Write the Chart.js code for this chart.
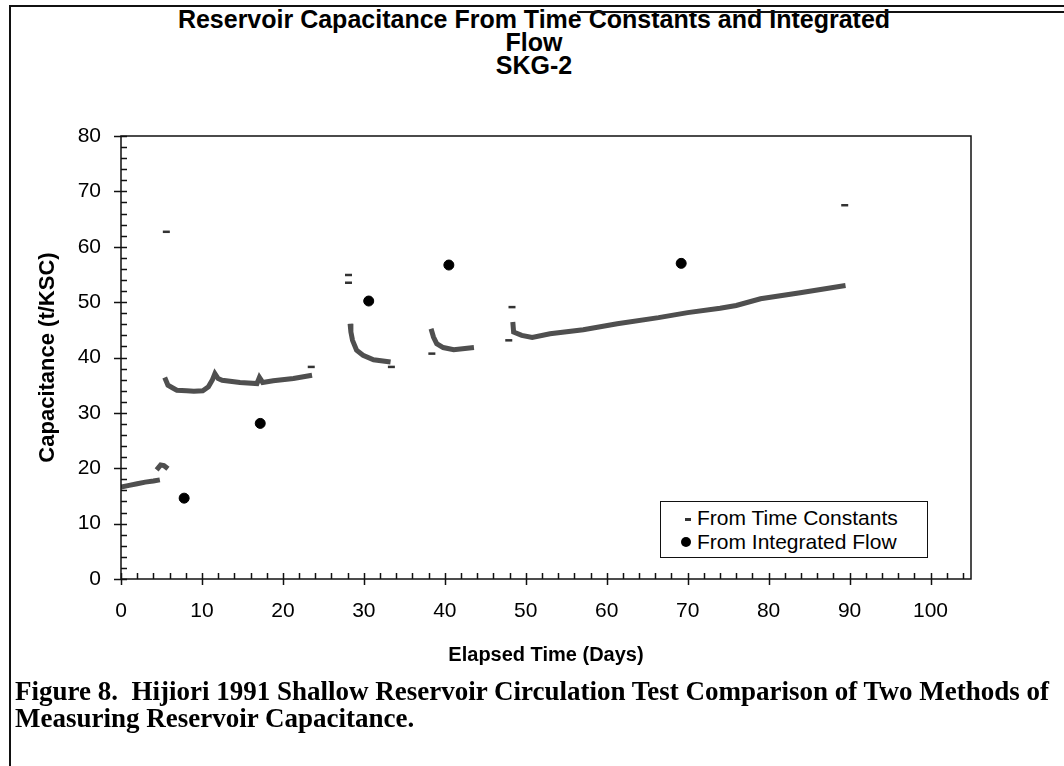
<!DOCTYPE html>
<html>
<head>
<meta charset="utf-8">
<script src="https://cdn.jsdelivr.net/npm/chart.js@4.4.1/dist/chart.umd.min.js"></script>
<style>
    html, body { margin: 0; padding: 0; background: #fff; }
    #page { position: relative; width: 1064px; height: 766px; overflow: hidden; font-family: "Liberation Sans", Arial, sans-serif; color: #000; }
    #frameTop { position: absolute; left: 9px; top: 5px; width: 1055px; border-top: 2px solid #111; }
    #frameLeft { position: absolute; left: 9px; top: 5px; height: 761px; border-left: 2px solid #111; }
    #scanLine { position: absolute; left: 577px; top: 11px; width: 487px; border-top: 2px solid #111; }
    #title { position: absolute; left: 0; top: 8px; width: 1068px; text-align: center; font-weight: bold; font-size: 25px; line-height: 23px; }
    #chartBox { position: absolute; left: 0; top: 0; width: 1064px; height: 680px; }
    #legend { position: absolute; left: 660px; top: 501px; width: 266px; height: 55px; border: 1.5px solid #111; background: #fff; font-size: 21px; }
    #legend .row { position: absolute; left: 36px; white-space: nowrap; line-height: 24px; }
    #legend .dash { position: absolute; left: 24px; width: 6px; height: 3px; background: #333; }
    #legend .dot { position: absolute; left: 20px; width: 10px; height: 10px; border-radius: 50%; background: #000; }
    #caption { position: absolute; left: 15px; top: 678px; font-family: "Liberation Serif", "Times New Roman", serif; font-weight: bold; font-size: 27px; line-height: 27px; white-space: nowrap; }
</style>
</head>
<body>
<div id="page">
    <div id="frameTop"></div>
    <div id="frameLeft"></div>
    <div id="title">Reservoir Capacitance From Time Constants and Integrated<br>Flow<br>SKG-2</div>
    <div id="scanLine"></div>
    <div id="chartBox"><canvas id="chart"></canvas></div>
    <div id="legend">
        <span class="dash" style="top:16px"></span>
        <div class="row" style="top:4px">From Time Constants</div>
        <span class="dot" style="top:35px"></span>
        <div class="row" style="top:28px">From Integrated Flow</div>
    </div>
    <div id="caption">Figure 8.&nbsp; Hijiori 1991 Shallow Reservoir Circulation Test Comparison of Two Methods of<br>Measuring Reservoir Capacitance.</div>
</div>

<script>
// ============================================
// DATA
// ============================================

// Time-constant estimates, null entries split the separate test runs
const tcDays = [
    0, 1, 2, 3, 4, 4.8, null,
    4.4, 4.9, 5.3, 5.8, null,
    5.4, 5.8, 6.4, 6.9, 8.1, 9.0, 10.1, 10.8, 11.3, 11.6, 12.0, 12.5, 14.7, 16.8, 17.1, 17.5, 18.8, 21.3, 23.6, null,
    28.3, 28.4, 28.6, 29.1, 29.9, 31.2, 33.3, null,
    38.3, 38.6, 39.0, 39.8, 41.1, 43.6, null,
    48.4, 48.5, 49.5, 50.8, 53.0, 57.1, 61.3, 66.4, 70.0, 74.0, 76.0, 79.0, 83.9, 89.5
];
const tcValues = [
    16.6, 16.9, 17.2, 17.5, 17.7, 17.9, null,
    19.7, 20.6, 20.5, 19.9, null,
    36.4, 35.0, 34.5, 34.1, 34.0, 33.9, 34.0, 34.7, 36.0, 37.1, 36.2, 35.9, 35.5, 35.3, 36.4, 35.5, 35.8, 36.2, 36.8, null,
    46.1, 44.6, 43.1, 41.3, 40.4, 39.6, 39.2, null,
    45.2, 43.7, 42.5, 41.8, 41.4, 41.8, null,
    46.4, 44.6, 44.0, 43.6, 44.3, 45.0, 46.1, 47.2, 48.1, 48.9, 49.4, 50.6, 51.7, 53.0
];

// Scattered single time-constant points
const tcSpotDays = [5.6, 23.5, 28.1, 28.1, 33.4, 38.4, 47.9, 48.3, 89.4];
const tcSpotValues = [62.7, 38.3, 54.9, 53.5, 38.3, 40.7, 43.1, 49.1, 67.5];

// Integrated-flow estimates
const flowDays = [7.8, 17.2, 30.6, 40.5, 69.2];
const flowValues = [14.6, 28.1, 50.2, 56.7, 57.0];

const X_MAX = 105;
const Y_MAX = 80;
const MAJOR_STEP = 10;
const MINOR_STEP = 2;

function toPoints(xs, ys) {
    const points = [];
    for (let i = 0; i < xs.length; i++) {
        points.push({ x: xs[i] === null ? NaN : xs[i], y: ys[i] });
    }
    return points;
}

// ============================================
// PLOT FRAME + TICK MARKS
// ============================================

const frameTicks = {
    id: 'frameTicks',

    afterDraw(chart) {
        const { ctx, chartArea: area, scales } = chart;
        const xScale = scales.x;
        const yScale = scales.y;

        ctx.save();
        ctx.strokeStyle = '#111';
        ctx.lineWidth = 1.5;
        ctx.strokeRect(area.left, area.top, area.right - area.left, area.bottom - area.top);

        ctx.beginPath();

        for (let v = 0; v < X_MAX; v += MINOR_STEP) {
            const px = Math.round(xScale.getPixelForValue(v)) + 0.5;
            const major = v % MAJOR_STEP === 0;
            ctx.moveTo(px, area.bottom - 6);
            ctx.lineTo(px, area.bottom + (major ? 6 : 0));
        }

        for (let v = 0; v <= Y_MAX; v += MINOR_STEP) {
            const py = Math.round(yScale.getPixelForValue(v)) + 0.5;
            const major = v % MAJOR_STEP === 0;
            ctx.moveTo(area.left - (major ? 7 : 0), py);
            ctx.lineTo(area.left + 6, py);
        }

        ctx.stroke();
        ctx.restore();
    }
};

// ============================================
// CHART
// ============================================

const ctx = document.getElementById('chart').getContext('2d');

new Chart(ctx, {
    type: 'scatter',

    data: {
        datasets: [
            {
                label: 'From Time Constants',
                data: toPoints(tcDays, tcValues),
                showLine: true,
                spanGaps: false,
                borderColor: '#4f4f4f',
                borderWidth: 5,
                pointRadius: 0,
                tension: 0
            },
            {
                label: 'From Time Constants (single)',
                data: toPoints(tcSpotDays, tcSpotValues),
                pointStyle: 'line',
                pointRadius: 3.5,
                pointBorderWidth: 2.5,
                borderColor: '#333',
                backgroundColor: '#333'
            },
            {
                label: 'From Integrated Flow',
                data: toPoints(flowDays, flowValues),
                pointStyle: 'circle',
                pointRadius: 5,
                borderColor: '#000',
                backgroundColor: '#000'
            }
        ]
    },

    options: {
        responsive: true,
        maintainAspectRatio: false,
        animation: false,
        events: [],

        layout: {
            padding: { top: 136, right: 93, bottom: 0, left: 0 }
        },

        plugins: {
            legend: { display: false },
            tooltip: { enabled: false }
        },

        scales: {
            x: {
                type: 'linear',
                min: 0,
                max: X_MAX,
                grid: { display: false, drawTicks: false },
                border: { display: false },
                ticks: {
                    stepSize: MAJOR_STEP,
                    includeBounds: false,
                    autoSkip: false,
                    maxRotation: 0,
                    padding: 20,
                    color: '#000',
                    font: { family: 'Liberation Sans, Arial, sans-serif', size: 21 }
                },
                title: {
                    display: true,
                    text: 'Elapsed Time (Days)',
                    color: '#000',
                    padding: { top: 0, bottom: 13 },
                    font: { family: 'Liberation Sans, Arial, sans-serif', size: 20, weight: 'bold' }
                },
                afterFit(scale) {
                    scale.height = 101;
                }
            },

            y: {
                type: 'linear',
                min: 0,
                max: Y_MAX,
                grid: { display: false, drawTicks: false },
                border: { display: false },
                ticks: {
                    stepSize: MAJOR_STEP,
                    padding: 20,
                    color: '#000',
                    font: { family: 'Liberation Sans, Arial, sans-serif', size: 21 }
                },
                title: {
                    display: true,
                    text: 'Capacitance (t/KSC)',
                    color: '#000',
                    padding: { top: 35, bottom: 0 },
                    font: { family: 'Liberation Sans, Arial, sans-serif', size: 22, weight: 'bold' }
                },
                afterFit(scale) {
                    scale.width = 121;
                }
            }
        }
    },

    plugins: [frameTicks]
});
</script>
</body>
</html>
